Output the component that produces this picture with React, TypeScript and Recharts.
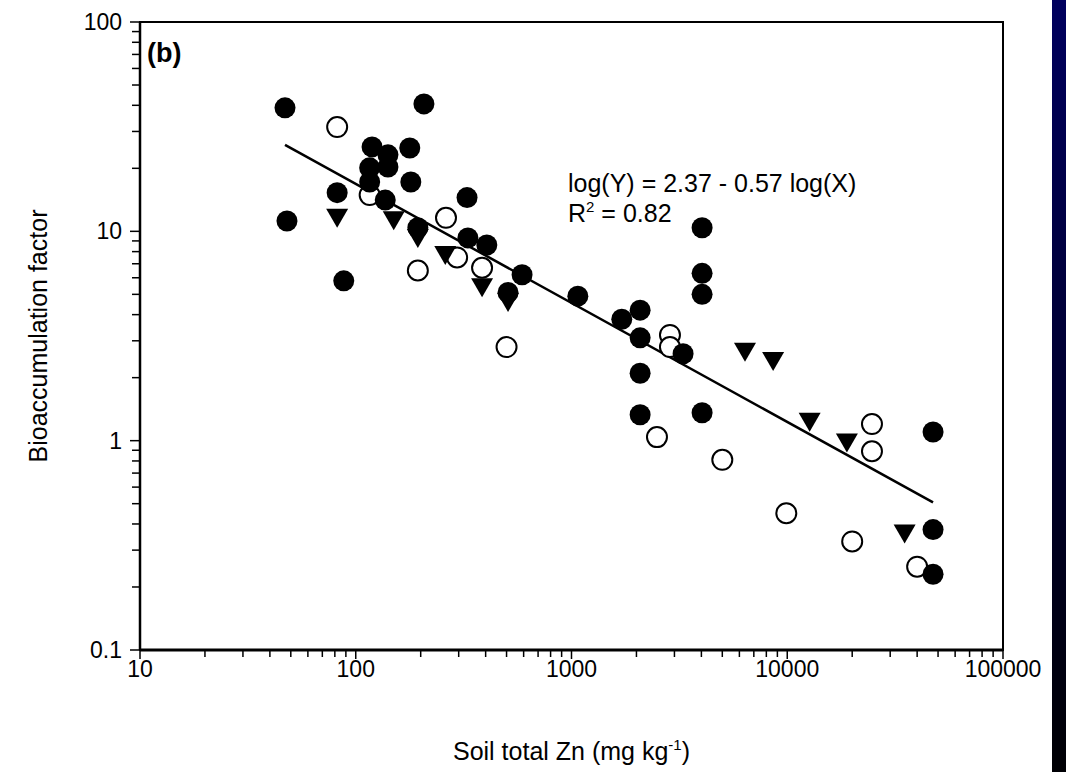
import React from "react";
import { ScatterChart, Scatter, XAxis, YAxis, ReferenceArea, Label } from "recharts";

const xMajorTicks = [10, 100, 1000, 10000, 100000];
const yMajorTicks = [0.1, 1, 10, 100];

// filled circles
const filledX = [47, 48, 82, 88, 207, 119, 116, 116, 141, 141, 178, 180, 137, 194, 328, 331, 405, 590, 508, 1070, 1710, 2080, 2080, 3290, 2080, 2080, 4030, 4030, 4030, 4030, 47400, 47400, 47400];
const filledY = [38.9, 11.2, 15.3, 5.8, 40.6, 25.3, 20.1, 17.2, 23.2, 20.3, 25, 17.2, 14.1, 10.4, 14.5, 9.3, 8.6, 6.2, 5.1, 4.9, 3.8, 4.2, 3.1, 2.6, 2.1, 1.33, 10.4, 6.3, 5.0, 1.36, 1.1, 0.376, 0.23];

// open circles
const openX = [82, 116, 262, 194, 295, 385, 500, 2860, 2860, 2490, 5000, 9900, 20000, 40000, 24700, 24700];
const openY = [31.5, 14.9, 11.6, 6.5, 7.5, 6.7, 2.8, 3.2, 2.8, 1.04, 0.81, 0.45, 0.33, 0.25, 1.2, 0.89];

// filled down-triangles
const triX = [82, 150, 194, 260, 385, 508, 6370, 8600, 12700, 18900, 35000];
const triY = [11.6, 11.3, 9.3, 7.7, 5.4, 4.6, 2.66, 2.4, 1.23, 0.98, 0.36];

// regression line end points
const fitX = [47, 47400];
const fitY = [25.9, 0.507];

const zip = (xs: number[], ys: number[]) => xs.map((x, i) => ({ x, y: ys[i] }));

const minorOf = (majors: number[]) => {
  const out: number[] = [];
  majors.slice(0, -1).forEach((m) => {
    out.push(m);
    for (let k = 2; k <= 9; k++) out.push(+(m * k).toPrecision(3));
  });
  out.push(majors[majors.length - 1]);
  return out;
};

const xTicks = minorOf(xMajorTicks);
const yTicks = minorOf(yMajorTicks);

const FONT = "'Liberation Sans', Arial, sans-serif";

const XTick = (props: any) => {
  const { x, y, payload } = props;
  const major = xMajorTicks.includes(payload.value);
  return (
    <g>
      <line x1={x} x2={x} y1={y} y2={y + (major ? 9 : 7)} stroke="#000" strokeWidth={1.5} />
      {major && (
        <text x={x} y={y + 27} textAnchor="middle" fontSize={23} fontFamily={FONT} fill="#000">
          {payload.value}
        </text>
      )}
    </g>
  );
};

const YTick = (props: any) => {
  const { x, y, payload } = props;
  const major = yMajorTicks.includes(payload.value);
  return (
    <g>
      <line x1={x} x2={x - (major ? 10 : 8)} y1={y} y2={y} stroke="#000" strokeWidth={1.5} />
      {major && (
        <text x={x - 18} y={y + 8} textAnchor="end" fontSize={23} fontFamily={FONT} fill="#000">
          {payload.value}
        </text>
      )}
    </g>
  );
};

const FilledDot = (p: any) => <circle cx={p.cx} cy={p.cy} r={10.5} fill="#000" />;
const OpenDot = (p: any) => <circle cx={p.cx} cy={p.cy} r={10} fill="#fff" stroke="#000" strokeWidth={2} />;
const DownTri = (p: any) => (
  <polygon points={`${p.cx - 11},${p.cy - 9} ${p.cx + 11},${p.cy - 9} ${p.cx},${p.cy + 10}`} fill="#000" />
);

export default function App() {
  return (
    <div style={{ position: "absolute", left: 0, top: 0, width: 1066, height: 772, background: "#fff", overflow: "hidden" }}>
      <ScatterChart width={1050} height={772} margin={{ top: 22, right: 47, bottom: 0, left: 0 }}>
        <XAxis
          dataKey="x"
          type="number"
          scale="log"
          domain={[10, 100000]}
          ticks={xTicks}
          interval={0}
          allowDataOverflow
          tickLine={false}
          tickSize={0}
          tickMargin={0}
          tick={<XTick />}
          axisLine={{ stroke: "#000", strokeWidth: 3 }}
          height={122}
        >
          <Label
            content={(props: any) => {
              const { x, y, width } = props.viewBox;
              return (
                <text x={x + width / 2} y={y + 110} textAnchor="middle" fontSize={25} fontFamily={FONT} fill="#000">
                  Soil total Zn (mg kg
                  <tspan dy={-10} fontSize={15}>-1</tspan>
                  <tspan dy={10}>)</tspan>
                </text>
              );
            }}
          />
        </XAxis>
        <YAxis
          dataKey="y"
          type="number"
          scale="log"
          domain={[0.1, 100]}
          ticks={yTicks}
          interval={0}
          allowDataOverflow
          tickLine={false}
          tickSize={0}
          tickMargin={0}
          tick={<YTick />}
          axisLine={{ stroke: "#000", strokeWidth: 2.5 }}
          width={140}
        >
          <Label
            content={(props: any) => {
              const { y, height } = props.viewBox;
              const cy = y + height / 2;
              return (
                <text x={47} y={cy} transform={`rotate(-90 47 ${cy})`} textAnchor="middle" fontSize={25} fontFamily={FONT} fill="#000">
                  Bioaccumulation factor
                </text>
              );
            }}
          />
        </YAxis>
        <ReferenceArea x1={10} x2={100000} y1={0.1} y2={100} fill="none" stroke="#000" strokeWidth={2} ifOverflow="visible" />
        <Scatter data={zip(fitX, fitY)} line={{ stroke: "#000", strokeWidth: 2.5 }} shape={() => <g />} isAnimationActive={false} />
        <Scatter data={zip(openX, openY)} shape={OpenDot} isAnimationActive={false} />
        <Scatter data={zip(filledX, filledY)} shape={FilledDot} isAnimationActive={false} />
        <Scatter data={zip(triX, triY)} shape={DownTri} isAnimationActive={false} />
      </ScatterChart>
      <svg width={1066} height={772} style={{ position: "absolute", left: 0, top: 0, pointerEvents: "none" }}>
        <text x={147} y={62} fontSize={27} fontWeight="bold" fontFamily={FONT} fill="#000">(b)</text>
        <text x={568} y={192} fontSize={25} fontFamily={FONT} fill="#000">log(Y) = 2.37 - 0.57 log(X)</text>
        <text x={568} y={222} fontSize={25} fontFamily={FONT} fill="#000">
          R<tspan dy={-10} fontSize={15}>2</tspan>
          <tspan dy={10}> = 0.82</tspan>
        </text>
      </svg>
      <div style={{ position: "absolute", left: 1052, top: 0, width: 14, height: 772, background: "linear-gradient(#00005e, #000004)" }} />
    </div>
  );
}
